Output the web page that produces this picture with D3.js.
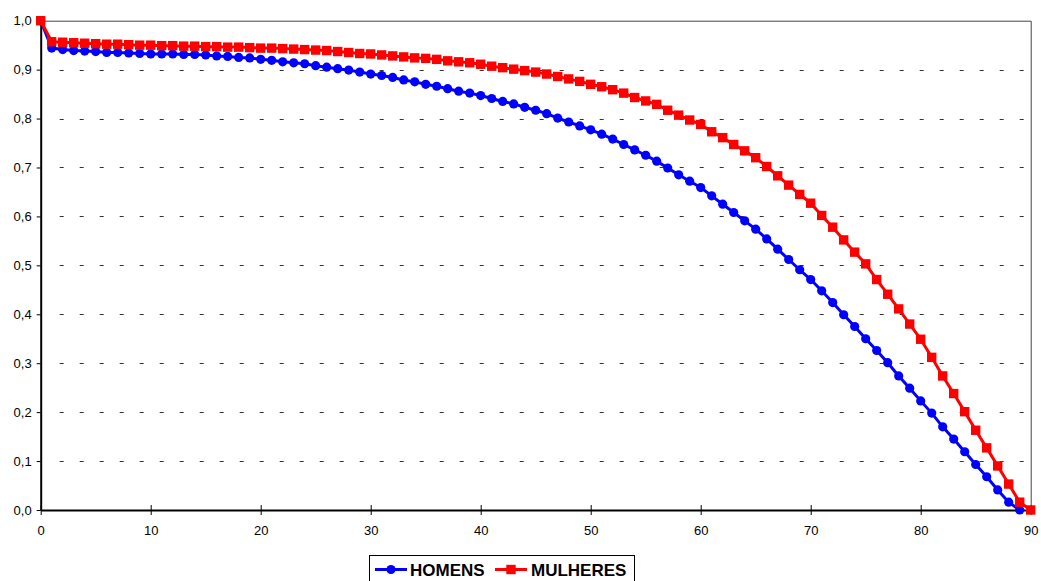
<!DOCTYPE html>
<html>
<head>
<meta charset="utf-8">
<script src="https://cdn.jsdelivr.net/npm/d3@7"></script>
<style>
  body { margin: 0; background: #fff; }
  text { font-family: "Liberation Sans", Arial, sans-serif; }
</style>
</head>
<body>
<div id="chart"></div>
<script>
// ages 0..89 (homens) and 0..90 (mulheres)
var homens = [1.000, 0.944, 0.941, 0.939, 0.938, 0.937, 0.935, 0.935, 0.934, 0.933,
  0.932, 0.932, 0.932, 0.931, 0.931, 0.930, 0.928, 0.927, 0.925, 0.924,
  0.921, 0.919, 0.916, 0.914, 0.912, 0.908, 0.905, 0.902, 0.899, 0.895,
  0.891, 0.888, 0.884, 0.879, 0.875, 0.870, 0.866, 0.861, 0.856, 0.852,
  0.847, 0.841, 0.835, 0.830, 0.823, 0.817, 0.810, 0.801, 0.793, 0.785,
  0.777, 0.768, 0.758, 0.747, 0.736, 0.725, 0.713, 0.699, 0.685, 0.672,
  0.659, 0.642, 0.625, 0.608, 0.591, 0.574, 0.554, 0.533, 0.512, 0.491,
  0.471, 0.448, 0.424, 0.399, 0.375, 0.350, 0.326, 0.301, 0.274, 0.249,
  0.223, 0.198, 0.170, 0.145, 0.119, 0.093, 0.068, 0.041, 0.016, 0.000]

var mulheres = [1.000, 0.957, 0.956, 0.955, 0.954, 0.953, 0.952, 0.952, 0.951, 0.950,
  0.950, 0.949, 0.949, 0.948, 0.948, 0.947, 0.947, 0.946, 0.946, 0.945,
  0.944, 0.944, 0.943, 0.942, 0.941, 0.940, 0.939, 0.937, 0.935, 0.933,
  0.932, 0.930, 0.928, 0.926, 0.924, 0.923, 0.921, 0.918, 0.916, 0.914,
  0.911, 0.907, 0.904, 0.901, 0.898, 0.895, 0.891, 0.886, 0.881, 0.876,
  0.870, 0.865, 0.859, 0.852, 0.843, 0.836, 0.829, 0.817, 0.807, 0.797,
  0.788, 0.773, 0.761, 0.747, 0.734, 0.720, 0.702, 0.683, 0.664, 0.645,
  0.627, 0.602, 0.578, 0.552, 0.527, 0.503, 0.471, 0.441, 0.411, 0.380,
  0.349, 0.312, 0.274, 0.238, 0.201, 0.163, 0.127, 0.090, 0.053, 0.016,
  0.000]

var xTicks = [0, 10, 20, 30, 40, 50, 60, 70, 80, 90]
var yTicks = [0, 0.1, 0.2, 0.3, 0.4, 0.5, 0.6, 0.7, 0.8, 0.9, 1.0]
var seriesNames = ["HOMENS", "MULHERES"]

var width = 1041, height = 581
var pLeft = 40.7, pRight = 1030.7, pTop = 20.7, pBottom = 510

var svg = d3.select("#chart").append("svg")
  .attr("width", width)
  .attr("height", height)

var x = d3.scaleLinear().domain([0, 90]).range([pLeft, pRight])
var y = d3.scaleLinear().domain([0, 1]).range([pBottom, pTop])

var pt = d3.formatLocale({decimal: ",", thousands: ".", grouping: [3], currency: ["", ""]})
var fmt = pt.format(".1f")

// dashed gridlines
svg.append("g")
  .selectAll("line")
  .data(yTicks.slice(1, -1))
  .enter()
  .append("line")
  .attr("x1", pLeft + 19)
  .attr("x2", pRight - 4)
  .attr("y1", function(d) { return Math.round(y(d)) + 0.5 })
  .attr("y2", function(d) { return Math.round(y(d)) + 0.5 })
  .attr("stroke", "#333")
  .attr("stroke-width", 1)
  .attr("stroke-dasharray", "4,16")

// plot border (top and right)
svg.append("path")
  .attr("d", "M" + pLeft + "," + (pTop + 0.5) + "H" + (pRight + 0.5) + "V" + pBottom)
  .attr("fill", "none")
  .attr("stroke", "#444")
  .attr("stroke-width", 1)

// y axis
var yAxis = svg.append("g")
  .attr("transform", "translate(" + pLeft + ",0)")
  .call(d3.axisLeft(y).tickValues(yTicks).tickFormat(fmt).tickSize(4).tickSizeOuter(0))
yAxis.select(".domain").attr("stroke", "#000").attr("stroke-width", 2)
yAxis.selectAll(".tick line").attr("stroke", "#000")
yAxis.selectAll("text")
  .attr("x", -9)
  .style("font-size", "13px")
  .attr("fill", "#000")

// x axis
var xAxis = svg.append("g")
  .attr("transform", "translate(0," + pBottom + ")")
  .call(d3.axisBottom(x).tickValues(xTicks).tickFormat(d3.format("d")).tickSize(5).tickSizeOuter(0))
xAxis.select(".domain").attr("stroke", "#000").attr("stroke-width", 2)
xAxis.selectAll(".tick line").attr("y1", -5).attr("y2", 5).attr("stroke", "#000")
xAxis.selectAll("text")
  .attr("y", 16)
  .style("font-size", "13px")
  .attr("fill", "#000")

var line = d3.line()
  .x(function(d, i) { return x(i) })
  .y(function(d) { return y(d) })

// homens
svg.append("path")
  .datum(homens)
  .attr("d", line)
  .attr("fill", "none")
  .attr("stroke", "#0000ff")
  .attr("stroke-width", 3)

svg.append("g")
  .selectAll("circle")
  .data(homens)
  .enter()
  .append("circle")
  .attr("cx", function(d, i) { return x(i) })
  .attr("cy", function(d) { return y(d) })
  .attr("r", 4.6)
  .attr("fill", "#0000ff")

// mulheres
svg.append("path")
  .datum(mulheres)
  .attr("d", line)
  .attr("fill", "none")
  .attr("stroke", "#ff0000")
  .attr("stroke-width", 3)

svg.append("g")
  .selectAll("rect")
  .data(mulheres)
  .enter()
  .append("rect")
  .attr("x", function(d, i) { return x(i) - 4.7 })
  .attr("y", function(d) { return y(d) - 4.7 })
  .attr("width", 9.4)
  .attr("height", 9.4)
  .attr("fill", "#ff0000")

// legend
var legend = svg.append("g")
legend.append("rect")
  .attr("x", 369.5)
  .attr("y", 555.5)
  .attr("width", 265)
  .attr("height", 32)
  .attr("fill", "#fff")
  .attr("stroke", "#000")
  .attr("stroke-width", 1)

var ly = 569.5
legend.append("line")
  .attr("x1", 375).attr("x2", 407).attr("y1", ly).attr("y2", ly)
  .attr("stroke", "#0000ff").attr("stroke-width", 3)
legend.append("circle")
  .attr("cx", 391).attr("cy", ly).attr("r", 4.6).attr("fill", "#0000ff")
legend.append("text")
  .attr("x", 410).attr("y", 575.5)
  .text(seriesNames[0])
  .style("font-size", "17px").style("font-weight", "bold")

legend.append("line")
  .attr("x1", 495).attr("x2", 527).attr("y1", ly).attr("y2", ly)
  .attr("stroke", "#ff0000").attr("stroke-width", 3)
legend.append("rect")
  .attr("x", 511 - 4.7).attr("y", ly - 4.7).attr("width", 9.4).attr("height", 9.4)
  .attr("fill", "#ff0000")
legend.append("text")
  .attr("x", 531).attr("y", 575.5)
  .text(seriesNames[1])
  .style("font-size", "17px").style("font-weight", "bold")
</script>
</body>
</html>
